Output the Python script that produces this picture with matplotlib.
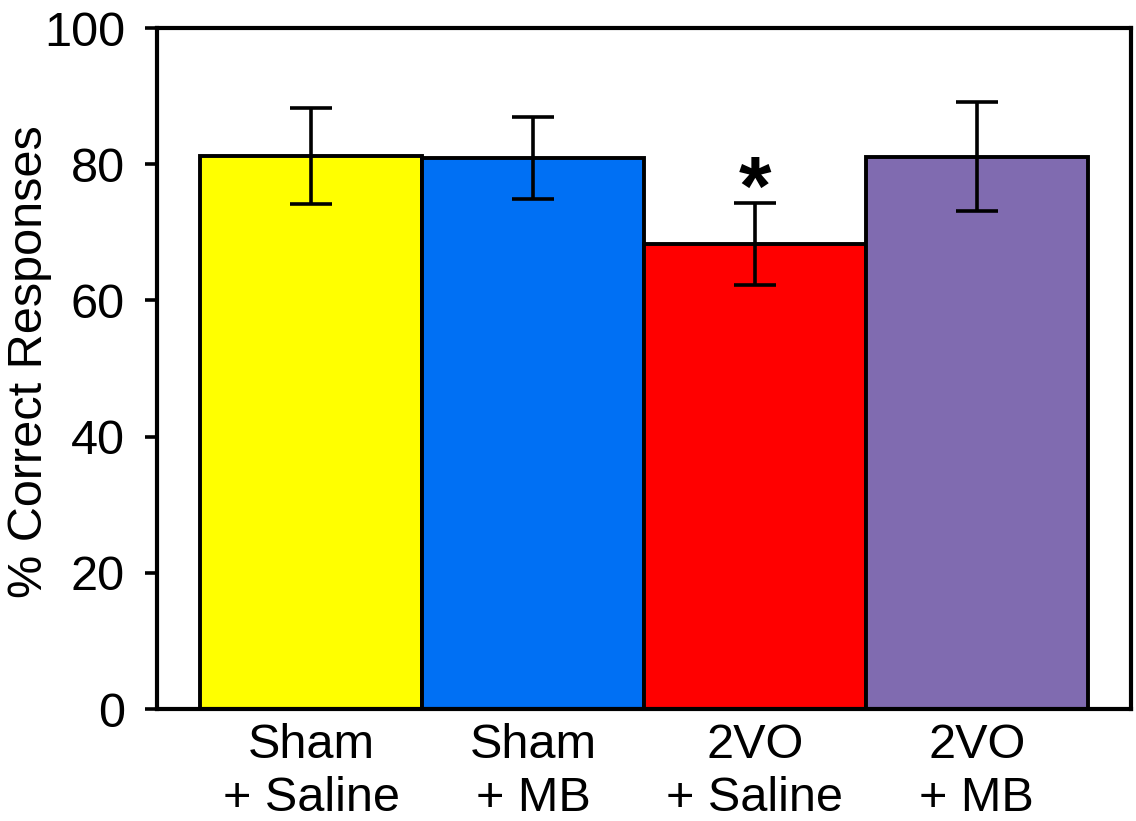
import matplotlib
matplotlib.use("Agg")
import matplotlib.pyplot as plt
import numpy as np

# ---------- DATA ----------
groups = ["Sham\n+ Saline", "Sham\n+ MB", "2VO\n+ Saline", "2VO\n+ MB"]
means = [81.2, 80.9, 68.3, 81.1]
errors = [7.0, 6.0, 6.0, 8.0]
colors = ["#FFFF00", "#0070F4", "#FF0000", "#806BB0"]
signif = ["", "", "*", ""]

plt.rcParams['font.family'] = ['Liberation Sans', 'DejaVu Sans']

# ---------- PLOT ----------
fig = plt.figure(figsize=(11.36, 8.21), dpi=100)
ax = fig.add_axes([157/1136, 1 - 709/821, 974/1136, 681/821])

x = np.arange(len(groups))
ax.bar(x, means, width=1.0, color=colors, edgecolor="black", linewidth=2.8, zorder=2)
ax.errorbar(x, means, yerr=errors, fmt="none", ecolor="black",
            elinewidth=2.6, capsize=15, capthick=2.6, zorder=3)

# significance marker above the error bar
for xi, m, e, s in zip(x, means, errors, signif):
    if s:
        ax.annotate(s, xy=(xi, m + e), xytext=(0, -21), textcoords="offset points",
                    ha="center", va="bottom", fontsize=60, fontweight="bold")

ax.set_xlim(-0.695, 3.695)
ax.set_ylim(0, 100)
ax.set_yticks([0, 20, 40, 60, 80, 100])
ax.set_xticks(x)
ax.set_xticklabels(groups, fontsize=35, linespacing=1.22)
ax.tick_params(axis="x", length=0, pad=10)
ax.tick_params(axis="y", direction="out", length=9, width=2.6, labelsize=35, pad=14)

for sp in ax.spines.values():
    sp.set_linewidth(3.0)

ax.set_ylabel("% Correct Responses", fontsize=35)
ax.yaxis.set_label_coords(-0.108, 0.51)

fig.savefig("out.png", dpi=100)
